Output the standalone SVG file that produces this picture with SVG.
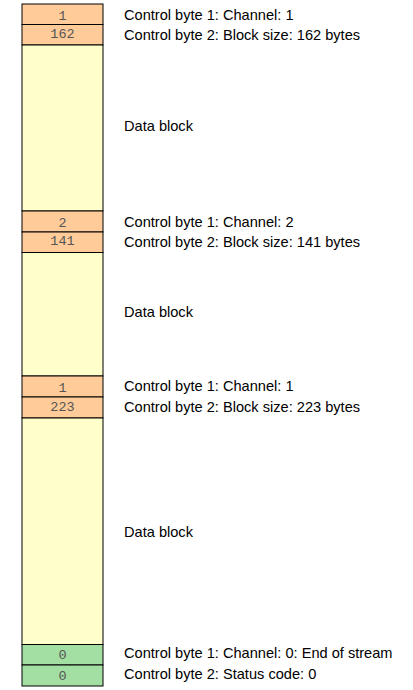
<svg xmlns="http://www.w3.org/2000/svg" width="413" height="690" viewBox="0 0 413 690">
<style>
rect{stroke:#000;stroke-width:1}
.c{fill:#ffcc99}
.d{fill:#ffffcc}
.e{fill:#a3dea3}
.n{font-family:"Liberation Mono","DejaVu Sans Mono",monospace;font-size:13.5px;fill:#555;text-anchor:middle}
.l{font-family:"Liberation Sans",Arial,sans-serif;font-size:14.6px;fill:#000}
</style>
<rect width="413" height="690" fill="#fff" style="stroke:none"/>
<g id="cb1a"><rect class="c" x="22" y="4" width="81" height="20.5"/><text class="n" x="62.5" y="20">1</text><text class="l" x="124" y="20">Control byte 1: Channel: 1</text></g>
<g id="cb2a"><rect class="c" x="22" y="24.5" width="81" height="20.5"/><text class="n" x="62.5" y="38">162</text><text class="l" x="124" y="40">Control byte 2: Block size: 162 bytes</text></g>
<g id="data1"><rect class="d" x="22" y="45" width="81" height="166"/><text class="l" x="124" y="131">Data block</text></g>
<g id="cb1b"><rect class="c" x="22" y="211" width="81" height="21"/><text class="n" x="62.5" y="227">2</text><text class="l" x="124" y="227">Control byte 1: Channel: 2</text></g>
<g id="cb2b"><rect class="c" x="22" y="232" width="81" height="20.5"/><text class="n" x="62.5" y="245">141</text><text class="l" x="124" y="247">Control byte 2: Block size: 141 bytes</text></g>
<g id="data2"><rect class="d" x="22" y="252.5" width="81" height="123.5"/><text class="l" x="124" y="317">Data block</text></g>
<g id="cb1c"><rect class="c" x="22" y="376" width="81" height="21"/><text class="n" x="62.5" y="392">1</text><text class="l" x="124" y="391">Control byte 1: Channel: 1</text></g>
<g id="cb2c"><rect class="c" x="22" y="397" width="81" height="21"/><text class="n" x="62.5" y="411">223</text><text class="l" x="124" y="412">Control byte 2: Block size: 223 bytes</text></g>
<g id="data3"><rect class="d" x="22" y="418" width="81" height="226.5"/><text class="l" x="124" y="537">Data block</text></g>
<g id="cb1d"><rect class="e" x="22" y="644.5" width="81" height="20.5"/><text class="n" x="62.5" y="659">0</text><text class="l" x="124" y="658">Control byte 1: Channel: 0: End of stream</text></g>
<g id="cb2d"><rect class="e" x="22" y="665" width="81" height="21"/><text class="n" x="62.5" y="680">0</text><text class="l" x="124" y="679">Control byte 2: Status code: 0</text></g>
<g id="connectors"></g>
</svg>
